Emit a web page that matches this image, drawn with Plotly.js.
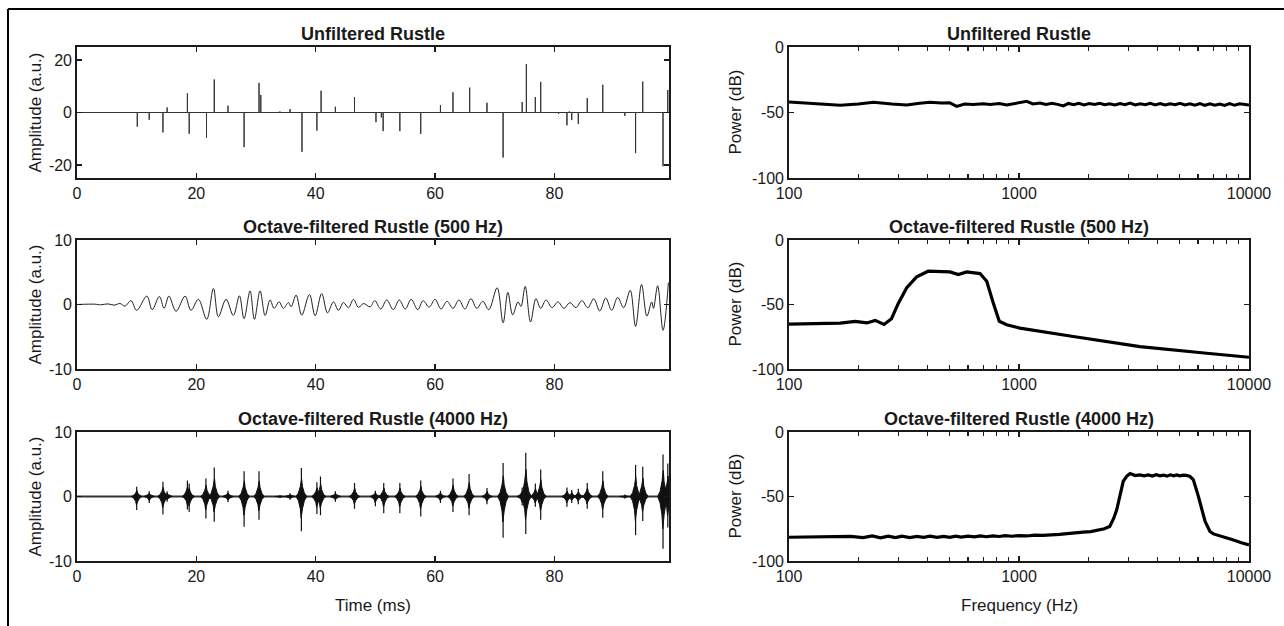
<!DOCTYPE html>
<html><head><meta charset="utf-8">
<script src="https://cdn.plot.ly/plotly-3.0.1.min.js"></script>
<style>html,body{margin:0;padding:0;background:#fff;}#plot{width:1284px;height:626px;}</style>
</head><body><div id="plot"></div>
<script>
// ---- Unfiltered rustle: impulse times (ms) and amplitudes (a.u.)
const spikeTimes = [10.1,12.1,14.4,15.1,18.5,18.8,21.7,23.0,25.3,28.0,30.5,30.8,34.0,35.7,37.7,40.2,40.9,43.3,46.5,50.1,51.0,51.3,54.1,57.6,60.9,63.0,65.8,68.7,71.4,74.6,75.3,76.8,77.7,80.7,82.1,82.5,82.9,84.0,85.5,88.1,91.8,93.6,94.8,98.2,99.0];
const spikeAmps  = [-5.4,-2.8,-7.6,1.9,7.3,-8.1,-9.6,12.6,2.6,-13.2,11.3,6.7,0.4,1.3,-15.0,-6.9,8.3,2.2,5.9,-3.7,-1.9,-7.1,-7.1,-8.2,2.8,7.7,9.5,3.7,-17.2,4.0,18.5,5.9,11.7,-0.5,-4.9,0.4,-2.9,-4.4,5.5,10.6,-1.3,-15.5,11.8,-20.5,8.6];

// ---- 500 Hz octave-filtered waveform: read extrema (ms, a.u.)
const t500 = [0,3.0,4.0,5.2,6.2,7.2,8.05,9.05,10.0,11.7,12.6,13.8,14.6,15.4,16.6,18.1,19.1,20.34,21.74,22.86,23.69,24.98,26.2,27.21,27.99,29.0,29.73,30.68,31.52,32.35,33.03,33.86,34.59,35.43,35.88,36.71,37.66,38.95,39.9,41.0,41.97,42.97,43.81,44.65,45.49,46.33,47.17,48.0,49.12,49.9,50.9,51.9,53.0,54.0,55.0,56.0,57.1,58.0,59.0,60.0,61.0,62.0,63.0,64.0,65.0,66.0,67.0,68.0,69.0,70.4,71.4,72.2,73.0,73.9,74.4,75.1,76.0,76.9,77.7,78.6,79.6,80.6,81.6,82.6,83.6,84.6,85.6,86.6,87.6,88.6,89.6,90.6,91.6,92.7,93.6,94.6,95.5,96.3,96.6,97.3,98.2,99.1];
const v500 = [0,0.05,-0.05,0.1,-0.1,0.15,-0.25,0.6,-0.9,1.3,-0.8,1.25,-0.6,1.3,-1.05,1.3,-0.9,0.8,-2.3,2.5,-1.9,0.8,-1.7,1.35,-2.2,2.1,-2.3,2.1,-1.7,0.7,-0.6,0.4,-0.6,0.3,-0.35,1.45,-1.65,1.55,-1.75,1.7,-1.3,0.4,-0.9,0.3,-0.5,0.8,-0.45,0.15,-0.35,0.6,-0.7,0.7,-0.8,0.7,-0.7,0.8,-0.8,0.6,-0.4,0.8,-0.7,0.5,-0.6,0.7,-0.7,0.9,-0.6,0.5,-0.8,2.6,-2.85,1.9,-1.6,0.4,-0.3,2.8,-2.7,0.9,-0.6,0.7,-0.5,0.4,-0.6,0.3,-0.5,0.6,-0.5,0.9,-1.0,1.0,-0.9,1.1,-0.5,2.2,-3.4,3.1,-1.8,0.4,-0.6,2.9,-4.0,3.4];

// ---- 4000 Hz octave-filtered bursts: centre (ms), positive peak, negative peak
const burstTimes = [10.0,12.1,14.4,15.1,18.5,18.8,21.6,23.0,25.3,28.0,30.5,34.0,35.7,37.6,40.2,40.8,43.3,46.5,50.0,51.4,54.1,57.6,60.9,63.0,65.7,68.7,71.4,74.6,75.2,76.8,77.7,82.1,82.9,84.0,85.5,88.1,91.8,93.6,94.8,98.2,99.0];
const burstPos = [1.5,0.8,2.3,0.8,2.5,2.0,2.8,4.5,0.9,3.9,3.9,0.2,0.5,4.4,2.2,3.1,0.8,2.1,0.9,2.1,2.1,2.5,0.9,2.8,3.5,1.3,5.2,1.4,6.8,2.0,4.2,1.4,1.0,1.2,2.1,3.9,0.3,4.9,4.6,6.5,5.1];
const burstNeg = [-2.1,-1.0,-2.8,-0.8,-2.0,-2.4,-3.4,-3.9,-0.9,-4.7,-3.6,-0.2,-0.5,-5.4,-2.7,-2.9,-0.8,-1.9,-1.5,-2.6,-2.6,-3.1,-1.0,-2.4,-2.9,-1.2,-6.4,-1.4,-5.8,-1.6,-3.6,-1.6,-1.0,-1.2,-1.9,-3.3,-0.3,-6.0,-3.8,-8.1,-4.8];

// ---- Spectra (Hz, dB)
const fUnf = [100,130,167,200,233,280,325,370,410,460,500,536,580,632,700,748,820,884,930,978,1080,1150,1233,1310,1390,1470,1560,1640,1730,1820,1920,2020,2130,2240,2360,2480,2610,2750,2890,3040,3200,3370,3540,3720,3910,4110,4320,4540,4770,5010,5270,5540,5820,6120,6430,6760,7100,7460,7840,8240,8660,9100,9560,10000];
const pUnf = [-42.0,-43.2,-44.5,-43.5,-42.2,-43.5,-44.3,-43.0,-42.2,-42.8,-42.6,-45.3,-43.5,-43.8,-43.3,-43.8,-43.2,-44.3,-43.5,-43.0,-41.5,-43.5,-42.8,-43.9,-42.9,-43.8,-45.0,-43.1,-44.1,-43.0,-44.2,-43.2,-43.9,-42.9,-44.0,-43.3,-44.3,-43.1,-44.0,-42.8,-44.2,-43.3,-44.0,-43.0,-44.2,-43.2,-44.3,-43.3,-44.1,-43.0,-44.3,-43.4,-44.4,-43.2,-44.5,-43.3,-44.4,-43.5,-44.6,-43.2,-44.5,-43.4,-44.1,-44.2];
const f500 = [100,120,140,167,194,218,237,259,279,299,325,359,403,454,501,545,592,677,724,773,821,884,1009,1722,3357,6545,10000];
const p500 = [-65.2,-65.0,-64.7,-64.4,-63.1,-64.3,-62.3,-65.5,-61.0,-49.0,-37.0,-28.6,-24.2,-24.7,-24.7,-26.8,-24.7,-26.0,-32.0,-48.8,-63.0,-65.7,-68.3,-74.8,-82.6,-87.8,-90.9];
const f4k = [100,130,160,185,210,230,250,270,290,310,335,360,385,410,440,470,500,530,560,600,640,680,720,770,820,870,930,1000,1080,1170,1270,1380,1500,1620,1750,1900,2050,2200,2350,2480,2580,2660,2750,2840,2950,3040,3200,3350,3500,3650,3800,3950,4100,4250,4400,4550,4700,4850,5000,5200,5400,5535,5725,6025,6444,6765,7000,7730,8500,9200,10000];
const p4k = [-81.6,-81.3,-81.5,-80.9,-81.8,-80.6,-82.0,-80.7,-81.9,-80.8,-81.8,-80.9,-81.6,-80.8,-81.7,-80.9,-81.6,-80.7,-81.5,-80.8,-81.3,-80.6,-81.2,-80.5,-81.0,-80.4,-80.8,-80.3,-80.6,-80.0,-80.2,-79.5,-79.4,-78.8,-78.5,-77.6,-77.2,-76.0,-75.0,-73.2,-67.0,-60.3,-48.0,-38.2,-34.0,-32.2,-33.8,-33.2,-34.0,-33.3,-34.2,-33.1,-34.0,-33.4,-34.2,-33.2,-33.9,-33.3,-34.0,-33.4,-33.8,-34.5,-36.9,-49.9,-69.4,-77.1,-79.0,-81.0,-83.5,-85.6,-87.5];

const timeTicks = [0,20,40,60,80];
const freqTicks = [100,1000,10000];
const freqMinor = [200,300,400,500,600,700,800,900,2000,3000,4000,5000,6000,7000,8000,9000];

// ---------- build traces ----------
const W = 1284, H = 626;
const FONT = 'Liberation Sans, Arial, sans-serif';
const INK = '#1a1a1a';

const sx = [0], sy = [0];
spikeTimes.forEach((t,i)=>{ sx.push(t,t,t); sy.push(0,spikeAmps[i],0); });
sx.push(99.2); sy.push(0);

const bx=[], by=[], lx=[], ly=[];
burstTimes.forEach((t,i)=>{
  const p = burstPos[i], n = burstNeg[i];
  bx.push(t-0.9,t-0.5,t-0.18,t-0.04,t+0.04,t+0.18,t+0.5,t+0.9,t+0.5,t+0.18,t+0.04,t-0.04,t-0.18,t-0.5,t-0.9,null);
  by.push(0,0.12*p,0.35*p,0.62*p,0.62*p,0.35*p,0.12*p,0,0.12*n,0.35*n,0.62*n,0.62*n,0.35*n,0.12*n,0,null);
  lx.push(t,t,null); ly.push(n,p,null);
});

const traces = [
  {x:sx,y:sy,xaxis:'x',yaxis:'y',mode:'lines',line:{color:'#333',width:1},hoverinfo:'skip'},
  {x:t500,y:v500,xaxis:'x2',yaxis:'y2',mode:'lines',line:{color:'#222',width:1,shape:'spline',smoothing:1},hoverinfo:'skip'},
  {x:[0,99.2],y:[0,0],xaxis:'x3',yaxis:'y3',mode:'lines',line:{color:'#333',width:2},hoverinfo:'skip'},
  {x:bx,y:by,xaxis:'x3',yaxis:'y3',mode:'lines',fill:'toself',fillcolor:'#111',line:{color:'#111',width:1},hoverinfo:'skip'},
  {x:lx,y:ly,xaxis:'x3',yaxis:'y3',mode:'lines',line:{color:'#111',width:1.2},hoverinfo:'skip'},
  {x:fUnf,y:pUnf,xaxis:'x4',yaxis:'y4',mode:'lines',line:{color:'#000',width:3},hoverinfo:'skip'},
  {x:f500,y:p500,xaxis:'x5',yaxis:'y5',mode:'lines',line:{color:'#000',width:3.2},hoverinfo:'skip'},
  {x:f4k,y:p4k,xaxis:'x6',yaxis:'y6',mode:'lines',line:{color:'#000',width:3.2},hoverinfo:'skip'}
];

const Lx=[77/W,669/W], Rx=[789/W,1249/W];
const rows=[[47,178],[240,369],[432,561]];
const ydom = r=>[1-r[1]/H,1-r[0]/H];

function baseAxis(){
  return {showline:true,linecolor:INK,linewidth:1.8,mirror:'ticks',ticks:'inside',ticklen:5,tickwidth:1.4,tickcolor:INK,
    showgrid:false,zeroline:false,tickfont:{family:FONT,size:16,color:INK},fixedrange:true};
}
const layout = {width:W,height:H,margin:{l:0,r:0,t:0,b:0},paper_bgcolor:'#fff',plot_bgcolor:'#fff',showlegend:false,
  font:{family:FONT,color:INK},annotations:[],shapes:[]};

const yLeft = [[-25,25,[-20,0,20]],[-10,10,[-10,0,10]],[-10,10,[-10,0,10]]];
for(let i=0;i<3;i++){
  const xa = Object.assign(baseAxis(),{domain:Lx,range:[0,99.2],tickvals:timeTicks,ticktext:timeTicks.map(String),anchor:'y'+(i?i+1:'')});
  const ya = Object.assign(baseAxis(),{domain:ydom(rows[i]),range:[yLeft[i][0],yLeft[i][1]],tickvals:yLeft[i][2],ticktext:yLeft[i][2].map(String),anchor:'x'+(i?i+1:'')});
  layout['xaxis'+(i?i+1:'')]=xa; layout['yaxis'+(i?i+1:'')]=ya;
  const j=i+4;
  const xr = Object.assign(baseAxis(),{domain:Rx,type:'log',range:[2,4],tickvals:freqTicks,ticktext:freqTicks.map(String),anchor:'y'+j,
    minor:{tickvals:freqMinor,ticks:'inside',ticklen:4,tickwidth:1.3,tickcolor:INK,showgrid:false}});
  const yr = Object.assign(baseAxis(),{domain:ydom(rows[i]),range:[-100,0],tickvals:[-100,-50,0],ticktext:['-100','-50','0'],anchor:'x'+j});
  layout['xaxis'+j]=xr; layout['yaxis'+j]=yr;
}

const titles=['Unfiltered Rustle','Octave-filtered Rustle (500 Hz)','Octave-filtered Rustle (4000 Hz)'];
for(let i=0;i<3;i++){
  [Lx,Rx].forEach(d=>{
    layout.annotations.push({text:'<b>'+titles[i]+'</b>',xref:'paper',yref:'paper',x:(d[0]+d[1])/2,y:1-rows[i][0]/H,
      xanchor:'center',yanchor:'bottom',yshift:1,showarrow:false,font:{family:FONT,size:18,color:INK}});
  });
  const yc = 1-(rows[i][0]+rows[i][1])/2/H;
  layout.annotations.push({text:'Amplitude (a.u.)',xref:'paper',yref:'paper',x:35/W,y:yc,textangle:-90,xanchor:'center',yanchor:'middle',showarrow:false,font:{family:FONT,size:17,color:INK}});
  layout.annotations.push({text:'Power (dB)',xref:'paper',yref:'paper',x:735/W,y:yc,textangle:-90,xanchor:'center',yanchor:'middle',showarrow:false,font:{family:FONT,size:17,color:INK}});
}
layout.annotations.push({text:'Time (ms)',xref:'paper',yref:'paper',x:(Lx[0]+Lx[1])/2,y:1-605/H,xanchor:'center',yanchor:'middle',showarrow:false,font:{family:FONT,size:17,color:INK}});
layout.annotations.push({text:'Frequency (Hz)',xref:'paper',yref:'paper',x:(Rx[0]+Rx[1])/2,y:1-605/H,xanchor:'center',yanchor:'middle',showarrow:false,font:{family:FONT,size:17,color:INK}});

layout.shapes.push({type:'line',xref:'paper',yref:'paper',x0:8/W,x1:1,y0:1-9/H,y1:1-9/H,line:{color:'#000',width:2}});
layout.shapes.push({type:'line',xref:'paper',yref:'paper',x0:8/W,x1:8/W,y0:1-9/H,y1:0,line:{color:'#000',width:2}});

Plotly.newPlot('plot',traces,layout,{staticPlot:true,displayModeBar:false});
</script></body></html>
